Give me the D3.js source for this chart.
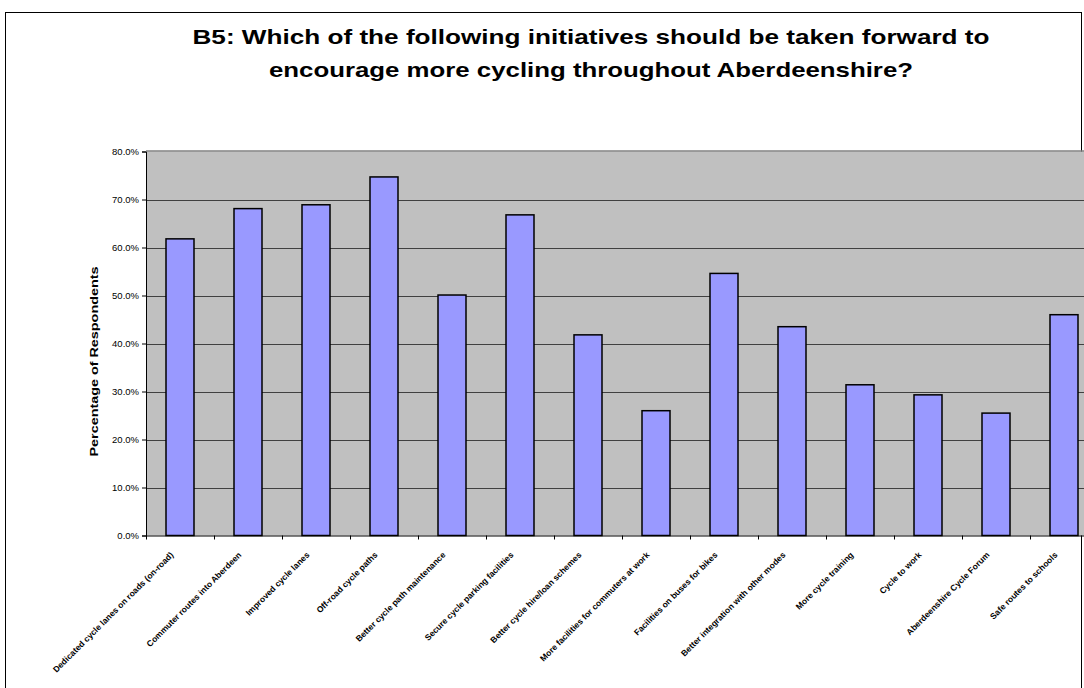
<!DOCTYPE html>
<html>
<head>
<meta charset="utf-8">
<script src="https://cdn.jsdelivr.net/npm/d3@7/dist/d3.min.js"></script>
<style>
  html, body { margin: 0; padding: 0; background: #fff; }
  svg { display: block; font-family: Arial, "Liberation Sans", sans-serif; }
</style>
</head>
<body>
<svg id="chart" width="1084" height="688"></svg>
<script>
// Survey question B5: share of respondents supporting each initiative
const titleLines = [
  "B5: Which of the following initiatives should be taken forward to",
  "encourage more cycling throughout Aberdeenshire?"
];
const categories = [
  "Dedicated cycle lanes on roads (on-road)",
  "Commuter routes into Aberdeen",
  "Improved cycle lanes",
  "Off-road cycle paths",
  "Better cycle path maintenance",
  "Secure cycle parking facilities",
  "Better cycle hire/loan schemes",
  "More facilities for commuters at work",
  "Facilities on buses for bikes",
  "Better integration with other modes",
  "More cycle training",
  "Cycle to work",
  "Aberdeenshire Cycle Forum",
  "Safe routes to schools"
];
const percentages = [61.8, 68.1, 68.9, 74.7, 50.1, 66.8, 41.8, 26.0, 54.6, 43.5, 31.4, 29.3, 25.5, 46.0];
const yTicks = [0, 10, 20, 30, 40, 50, 60, 70, 80];
const yAxisTitle = "Percentage of Respondents";

const svg = d3.select("#chart");

// outer chart frame
svg.append("rect")
  .attr("x", 5.5).attr("y", 12.5)
  .attr("width", 1076).attr("height", 690)
  .attr("fill", "#fff").attr("stroke", "#000").attr("stroke-width", 1);

// title, stretched to the width of the frame's heading area
const titleWidths = [797, 644];
const title = svg.append("text")
  .attr("text-anchor", "middle")
  .attr("font-weight", "bold")
  .attr("font-size", 21)
  .attr("fill", "#000");
titleLines.forEach((t, i) => {
  title.append("tspan")
    .attr("x", 591).attr("y", 44 + i * 33)
    .attr("textLength", titleWidths[i])
    .attr("lengthAdjust", "spacingAndGlyphs")
    .text(t);
});

// plot area
const plot = { left: 146, top: 151.5, bottom: 535.5 };
const step = 68;
const x = d3.scaleBand()
  .domain(categories)
  .range([plot.left, plot.left + step * categories.length])
  .paddingInner(40 / 68)
  .paddingOuter(20 / 68);
const y = d3.scaleLinear().domain([0, 80]).range([plot.bottom, plot.top]);

const plotRight = plot.left + step * categories.length;
svg.append("rect")
  .attr("x", plot.left).attr("y", plot.top)
  .attr("width", plotRight - plot.left).attr("height", plot.bottom - plot.top)
  .attr("fill", "#c0c0c0");
svg.append("line")
  .attr("x1", plot.left).attr("x2", plotRight)
  .attr("y1", plot.top - 0.5).attr("y2", plot.top - 0.5)
  .attr("stroke", "#808080").attr("stroke-width", 1.5);

// horizontal gridlines
svg.append("g").selectAll("line")
  .data(yTicks.filter(v => v > 0 && v < 80))
  .join("line")
  .attr("x1", plot.left).attr("x2", plotRight)
  .attr("y1", d => Math.round(y(d)) + 0.5).attr("y2", d => Math.round(y(d)) + 0.5)
  .attr("stroke", "#404040").attr("stroke-width", 1);

// bars
svg.append("g").selectAll("rect")
  .data(percentages)
  .join("rect")
  .attr("x", (d, i) => x(categories[i]))
  .attr("y", d => y(d))
  .attr("width", x.bandwidth())
  .attr("height", d => y(0) - y(d))
  .attr("fill", "#9999ff")
  .attr("stroke", "#000")
  .attr("stroke-width", 1.5);

// y axis
const yAxis = d3.axisLeft(y)
  .tickValues(yTicks)
  .tickFormat(d => d.toFixed(1) + "%")
  .tickSize(4)
  .tickPadding(3);
const gy = svg.append("g")
  .attr("transform", `translate(${plot.left},0)`)
  .call(yAxis);
gy.select(".domain").attr("stroke", "#000");
gy.selectAll(".tick line").attr("stroke", "#000");
gy.selectAll(".tick text")
  .attr("font-size", 9.5)
  .attr("font-family", "Arial, 'Liberation Sans', sans-serif")
  .attr("fill", "#000");

// x axis baseline with ticks between categories
const gx = svg.append("g");
gx.append("line")
  .attr("x1", plot.left).attr("x2", plotRight)
  .attr("y1", plot.bottom + 0.5).attr("y2", plot.bottom + 0.5)
  .attr("stroke", "#000");
gx.selectAll("line.tick")
  .data(d3.range(categories.length + 1))
  .join("line")
  .attr("class", "tick")
  .attr("x1", i => plot.left + i * step + 0.5)
  .attr("x2", i => plot.left + i * step + 0.5)
  .attr("y1", plot.bottom).attr("y2", plot.bottom + 4)
  .attr("stroke", "#000");

// rotated category labels
gx.selectAll("text")
  .data(categories)
  .join("text")
  .attr("transform", d => `translate(${x(d) + x.bandwidth() / 2 - 6},${plot.bottom + 20}) rotate(-45)`)
  .attr("text-anchor", "end")
  .attr("font-size", 8.5)
  .attr("font-weight", "bold")
  .attr("fill", "#000")
  .text(d => d);

// y axis title
svg.append("text")
  .attr("transform", `translate(98,${(plot.top + plot.bottom) / 2 + 18}) rotate(-90)`)
  .attr("text-anchor", "middle")
  .attr("font-size", 10)
  .attr("font-weight", "bold")
  .attr("textLength", 190)
  .attr("lengthAdjust", "spacingAndGlyphs")
  .attr("fill", "#000")
  .text(yAxisTitle);
</script>
</body>
</html>
